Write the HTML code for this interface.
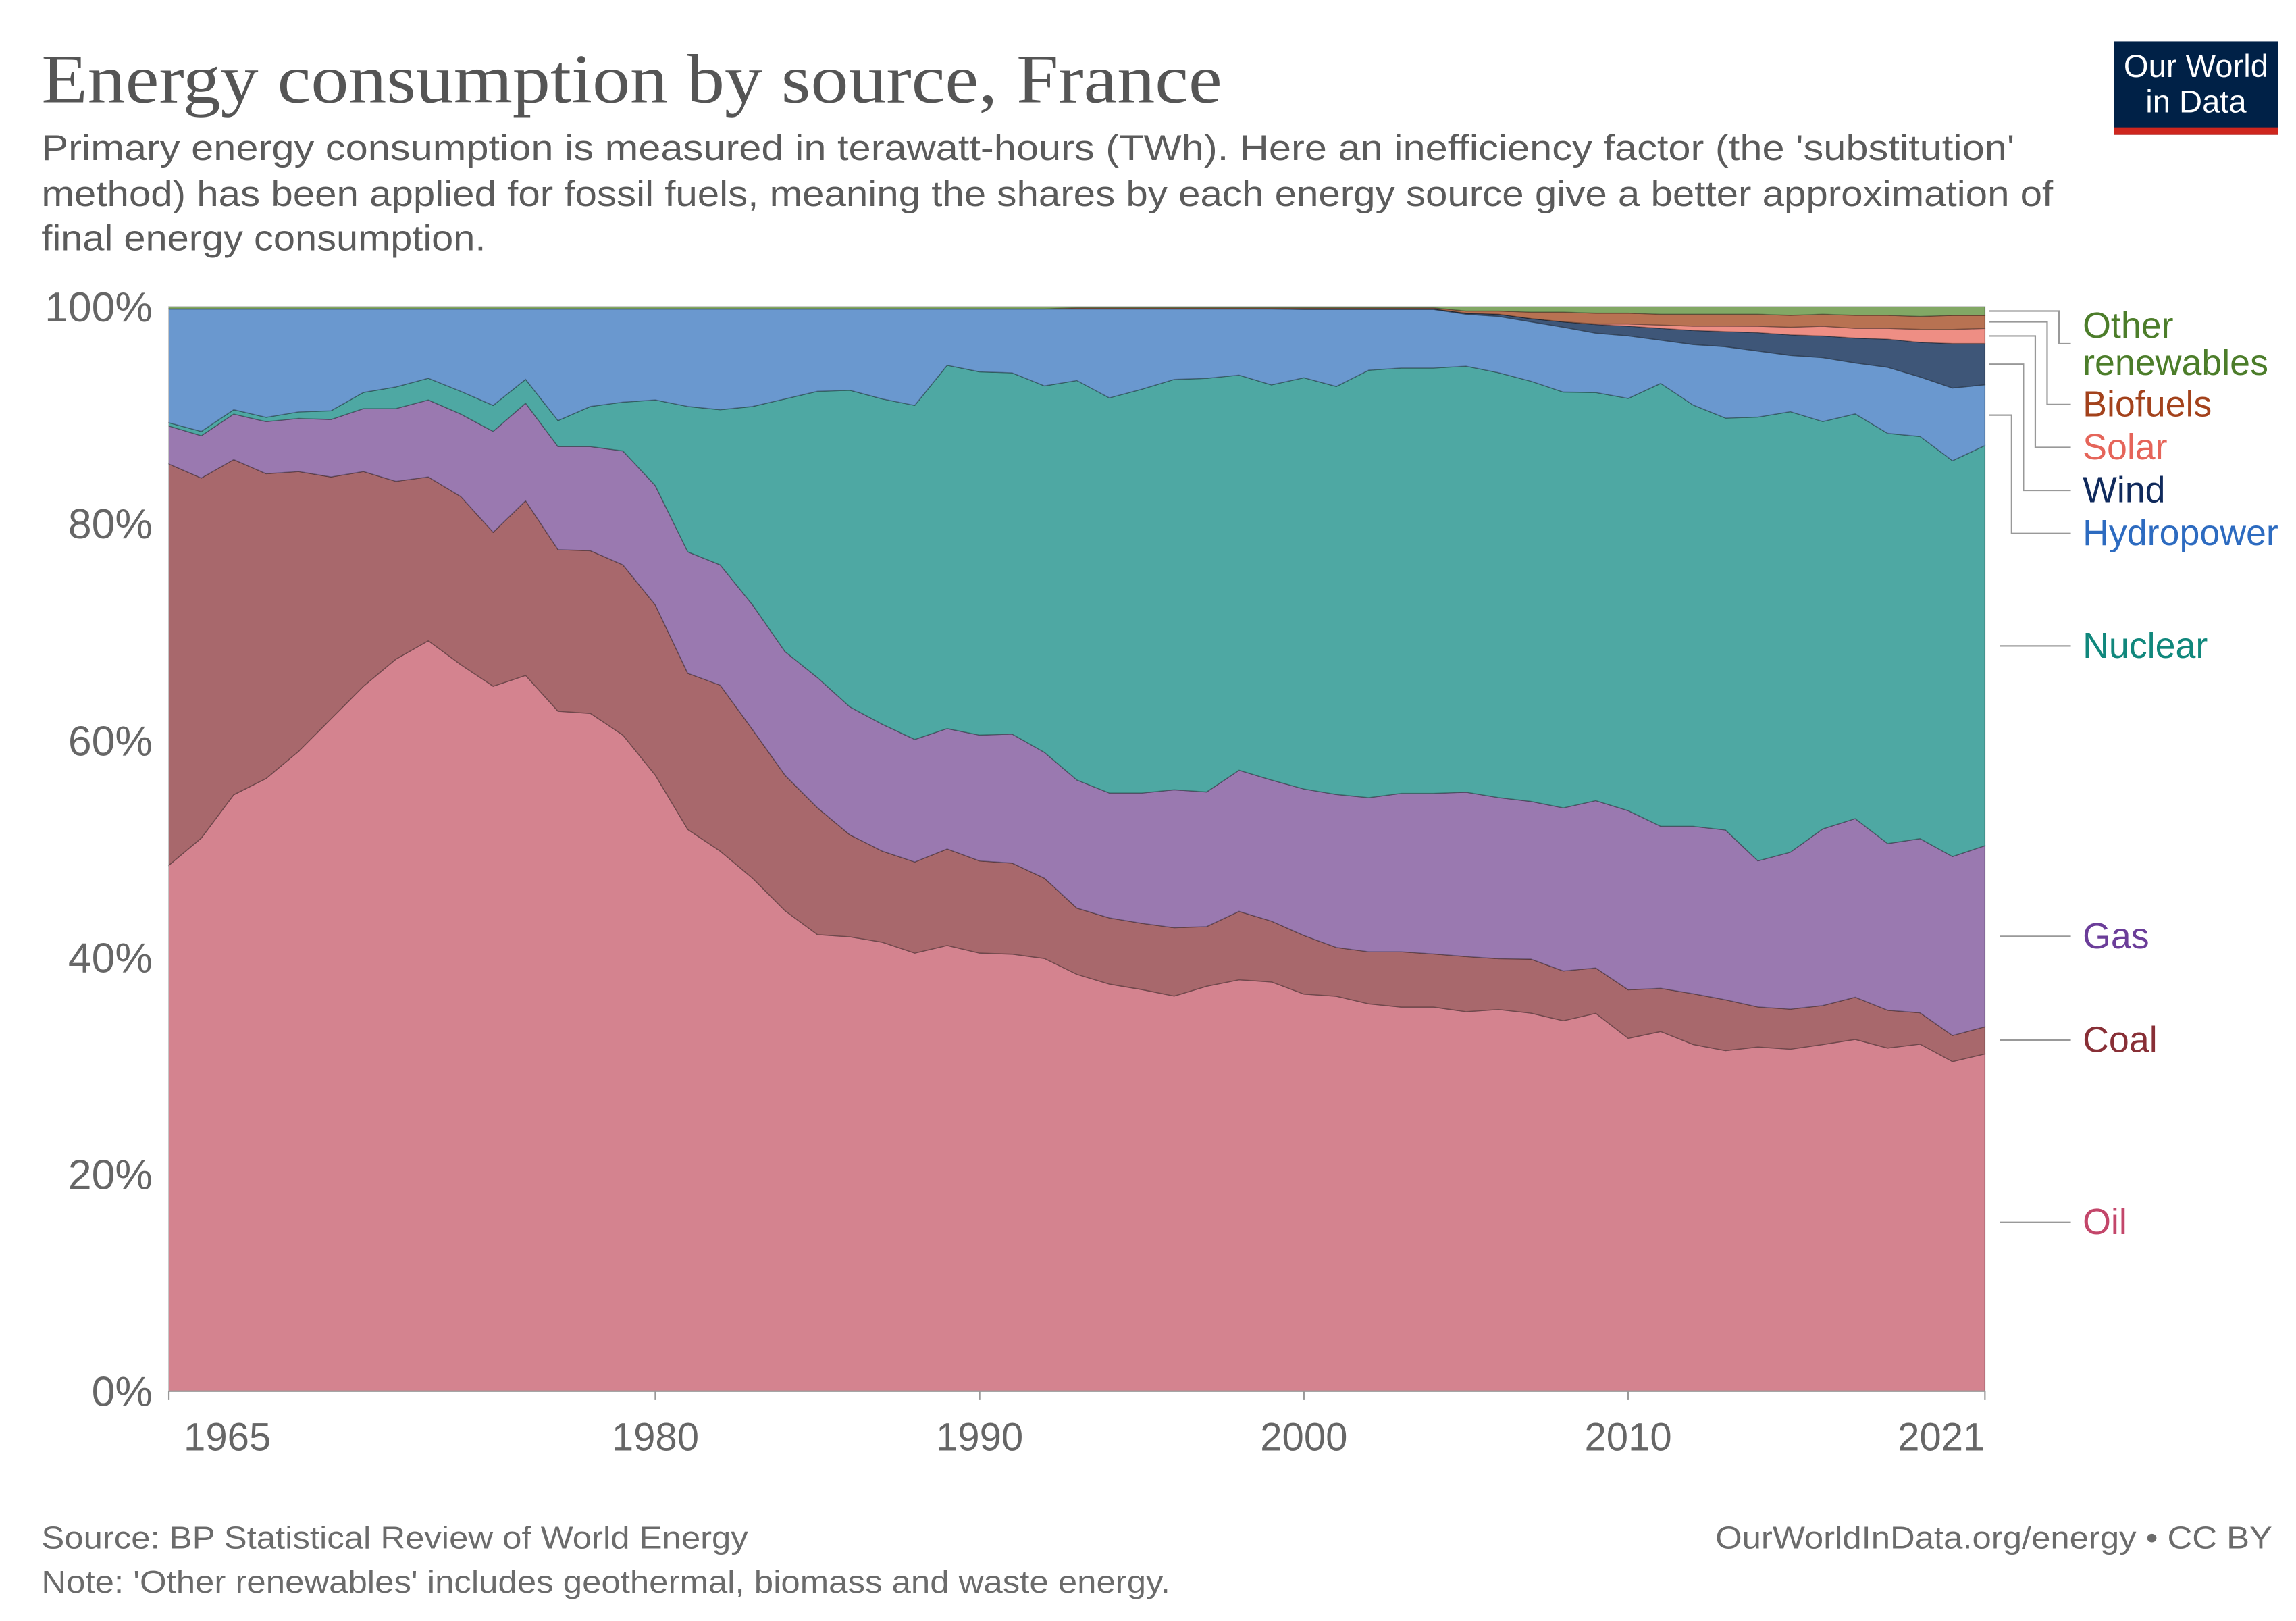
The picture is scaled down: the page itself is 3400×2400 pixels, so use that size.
<!DOCTYPE html>
<html><head><meta charset="utf-8"><style>
html,body{margin:0;padding:0;background:#fff;}
svg{display:block;font-family:"Liberation Sans",sans-serif;}
</style></head><body>
<svg id="chart" width="3400" height="2400" viewBox="0 0 1550 1094.1" xmlns="http://www.w3.org/2000/svg">
<text x="28" y="69" font-family="Liberation Serif, serif" font-size="47" fill="#555" textLength="797" lengthAdjust="spacingAndGlyphs">Energy consumption by source, France</text>
<g font-size="24" fill="#5b5b5b">
<text x="28" y="108" textLength="1332" lengthAdjust="spacingAndGlyphs">Primary energy consumption is measured in terawatt-hours (TWh). Here an inefficiency factor (the 'substitution'</text>
<text x="28" y="139" textLength="1358" lengthAdjust="spacingAndGlyphs">method) has been applied for fossil fuels, meaning the shares by each energy source give a better approximation of</text>
<text x="28" y="169" textLength="300" lengthAdjust="spacingAndGlyphs">final energy consumption.</text>
</g>
<g>
<rect x="1427" y="28" width="111" height="63" fill="#002147"/>
<rect x="1427" y="86" width="111" height="5" fill="#ce261e"/>
<text x="1482.5" y="52" font-size="21.5" fill="#fff" text-anchor="middle">Our World</text>
<text x="1482.5" y="76" font-size="21.5" fill="#fff" text-anchor="middle">in Data</text>
</g>
<g id="grid"></g>
<g id="areas"></g>
<g id="axes"></g>
<g id="labels"></g>
<g font-size="21" fill="#6b6b6b">
<text x="28" y="1045" textLength="477" lengthAdjust="spacingAndGlyphs">Source: BP Statistical Review of World Energy</text>
<text x="28" y="1075" textLength="762" lengthAdjust="spacingAndGlyphs">Note: 'Other renewables' includes geothermal, biomass and waste energy.</text>
<text x="1158" y="1045" textLength="376" lengthAdjust="spacingAndGlyphs">OurWorldInData.org/energy • CC BY</text>
</g>
</svg>
<script>
const years=[];for(let y=1965;y<=2021;y++)years.push(y);
const oil=[48.5,51,55,56.5,59,62,65,67.5,69.2,67,65,66,62.7,62.5,60.5,56.8,51.8,49.8,47.3,44.3,42.1,41.9,41.4,40.4,41.1,40.4,40.3,39.9,38.4,37.5,37.0,36.4,37.3,37.9,37.7,36.6,36.4,35.7,35.4,35.4,35.1,35.3,35.0,34.3,35.0,32.7,33.3,32.1,31.5,31.8,31.6,32.0,32.5,31.7,32.1,30.4,31.1];
const coal=[37.0,33.2,30.9,28.1,25.8,22.3,19.8,16.4,15.1,15.5,14.2,16.1,14.9,15.0,15.7,15.7,14.4,15.3,13.7,12.5,11.7,9.4,8.4,8.4,8.9,8.5,8.4,7.4,6.1,6.1,6.1,6.3,5.5,6.3,5.6,5.4,4.5,4.8,5.1,4.9,5.1,4.7,5.0,4.6,4.2,4.5,4.0,4.7,4.7,3.7,3.7,3.6,3.9,3.5,2.9,2.4,2.5];
const gas=[3.5,3.9,4.2,4.8,4.9,5.3,5.8,6.7,7.1,7.6,9.3,9.0,9.5,9.6,10.5,11.0,11.2,11.1,11.5,11.4,12.0,11.8,11.7,11.3,11.1,11.6,11.9,11.6,11.8,11.5,12.0,12.7,12.4,13.0,13.0,13.5,14.1,14.2,14.6,14.8,15.2,14.9,14.6,15.1,15.5,16.6,15.0,15.5,15.7,13.5,14.5,16.3,16.5,15.4,16.1,16.5,16.7];
const nuclear=[0.3,0.4,0.4,0.4,0.6,0.8,1.5,2.0,2.0,2.1,2.4,2.2,2.4,3.7,4.5,7.9,13.4,14.3,18.3,23.3,26.4,29.2,30.0,30.8,33.5,33.5,33.3,33.8,36.8,36.4,37.2,37.8,38.1,36.4,36.4,37.9,37.6,39.4,39.2,39.2,39.4,39.3,38.9,38.5,37.8,38.2,41.0,39.0,38.1,41.0,40.7,37.6,37.4,37.9,37.2,36.5,36.9];
const hydro=[10.5,11.3,9.3,10.0,9.5,9.4,7.7,7.2,6.4,7.6,8.9,6.5,10.3,9.0,8.6,8.4,9.0,9.3,9.0,8.3,7.6,7.5,8.3,8.9,5.2,5.8,5.9,7.1,6.6,8.2,7.4,6.5,6.4,6.1,7.0,6.3,7.1,5.6,5.4,5.4,4.8,5.2,5.5,6.0,5.5,5.8,4.0,5.6,6.6,6.1,5.2,5.9,4.7,6.1,5.5,6.7,5.6];
const wind=[0,0,0,0,0,0,0,0,0,0,0,0,0,0,0,0,0,0,0,0,0,0,0,0,0,0,0,0,0,0,0,0,0,0,0,0.05,0.05,0.05,0.05,0.05,0.1,0.2,0.3,0.5,0.8,0.9,1.1,1.3,1.4,1.7,1.9,2.0,2.3,2.6,3.2,4.1,3.8];
const solar=[0,0,0,0,0,0,0,0,0,0,0,0,0,0,0,0,0,0,0,0,0,0,0,0,0,0,0,0,0,0,0,0,0,0,0,0,0,0,0,0,0,0,0,0,0.05,0.2,0.3,0.4,0.5,0.6,0.7,0.9,0.9,1.0,1.2,1.3,1.4];
const biofuels=[0,0,0,0,0,0,0,0,0,0,0,0,0,0,0,0,0,0,0,0,0,0,0,0,0,0,0,0,0.1,0.1,0.1,0.1,0.1,0.1,0.1,0.1,0.1,0.1,0.1,0.1,0.2,0.3,0.6,0.9,1.0,1.0,1.0,1.1,1.1,1.1,1.1,1.1,1.2,1.2,1.2,1.3,1.2];
const other=[0.2,0.2,0.2,0.2,0.2,0.2,0.2,0.2,0.2,0.2,0.2,0.2,0.2,0.2,0.2,0.2,0.2,0.2,0.2,0.2,0.2,0.2,0.2,0.2,0.2,0.2,0.2,0.2,0.1,0.1,0.1,0.1,0.1,0.1,0.1,0.1,0.1,0.1,0.1,0.1,0.4,0.4,0.5,0.5,0.6,0.6,0.7,0.7,0.7,0.7,0.8,0.7,0.8,0.8,0.9,0.8,0.8];
const yTicks=[0,20,40,60,80,100];
const xTicks=[1965,1980,1990,2000,2010,2021];
const seriesNames=["Oil","Coal","Gas","Nuclear","Hydropower","Wind","Solar","Biofuels","Other renewables"];
const seriesData=[oil,coal,gas,nuclear,hydro,wind,solar,biofuels,other];
const fills=["#d4838f","#a8686c","#9a79b0","#4ea8a3","#6a98cf","#3e5678","#ee8e84","#b87252","#82a865"];
const textCols=["#c3466a","#882f36","#6b3d99","#10877c","#2d6bc0","#102a5c","#e5655a","#a3421c","#4c7d2a"];
const NS="http://www.w3.org/2000/svg";
const X0=114,X1=1340,Y0=939,Y1=207;
const x=yr=>X0+(yr-years[0])/(years[years.length-1]-years[0])*(X1-X0);
const y=v=>Y0-v/100*(Y0-Y1);
function mk(tag,attrs,parent){const e=document.createElementNS(NS,tag);for(const k in attrs)e.setAttribute(k,attrs[k]);parent.appendChild(e);return e;}
const grid=document.getElementById('grid'),areas=document.getElementById('areas'),axes=document.getElementById('axes'),labels=document.getElementById('labels');
yTicks.forEach(t=>{
 if(t>0&&t<100){const l=mk('line',{x1:X0,x2:X1,y1:y(t),y2:y(t),stroke:'#ddd','stroke-dasharray':'4,4'},grid);
 
 }
 const tx=mk('text',{x:103,y:y(t)+10,'font-size':28.5,fill:'#666','text-anchor':'end'},axes);tx.textContent=t+'%';
 
 
});
const totals=years.map((_,i)=>seriesData.reduce((s,a)=>s+a[i],0));
let base=years.map(()=>0);
const tops=[];
seriesData.forEach((arr,si)=>{
 const top=base.map((b,i)=>b+arr[i]/totals[i]*100);
 let d='M'+years.map((yr,i)=>x(yr)+','+y(top[i])).join('L');
 for(let i=years.length-1;i>=0;i--)d+='L'+x(years[i])+','+y(base[i]);
 d+='Z';
 const p=mk('path',{d:d,fill:fills[si],stroke:'rgba(0,0,0,0.3)','stroke-width':0.7},areas);
 
 
 tops.push({base:base.slice(),top:top});
 base=top;
});
mk('line',{x1:X0,x2:X1,y1:Y0,y2:Y0,stroke:'#999'},axes);
xTicks.forEach(t=>{
 mk('line',{x1:x(t),x2:x(t),y1:Y0,y2:Y0+6,stroke:'#999'},axes);
 let lx=x(t),anchor='middle';
 if(t===xTicks[0]){lx=x(t)+10;anchor='start';}
 if(t===xTicks[xTicks.length-1]){lx=x(t);anchor='end';}
 const tx=mk('text',{x:lx,y:979,'font-size':26.5,fill:'#666','text-anchor':anchor},axes);tx.textContent=t;
 
 
});
const labY=[825,702,632,436,360,331,302,273,232];
const bends=[0,0,0,0,1358,1366,1374,1382,1390];
const last=years.length-1;
seriesData.forEach((arr,si)=>{
 const mid=y((tops[si].base[last]+tops[si].top[last])/2);
 let pts;
 if(bends[si]) pts=`1343,${mid} ${bends[si]},${mid} ${bends[si]},${labY[si]} 1398,${labY[si]}`;
 else pts=`1350,${labY[si]} 1398,${labY[si]}`;
 mk('polyline',{points:pts,fill:'none',stroke:'#999','stroke-width':1},labels);
 const g=mk('text',{x:1406,y:labY[si]+8,'font-size':24.5,fill:textCols[si]},labels);
 
 
 if(si===8){g.setAttribute('y',labY[si]-4);
  const t1=mk('tspan',{x:1406},g);t1.textContent='Other';
  const t2=mk('tspan',{x:1406,dy:25},g);t2.textContent='renewables';}
 else g.textContent=seriesNames[si];
});
</script>
</body></html>
